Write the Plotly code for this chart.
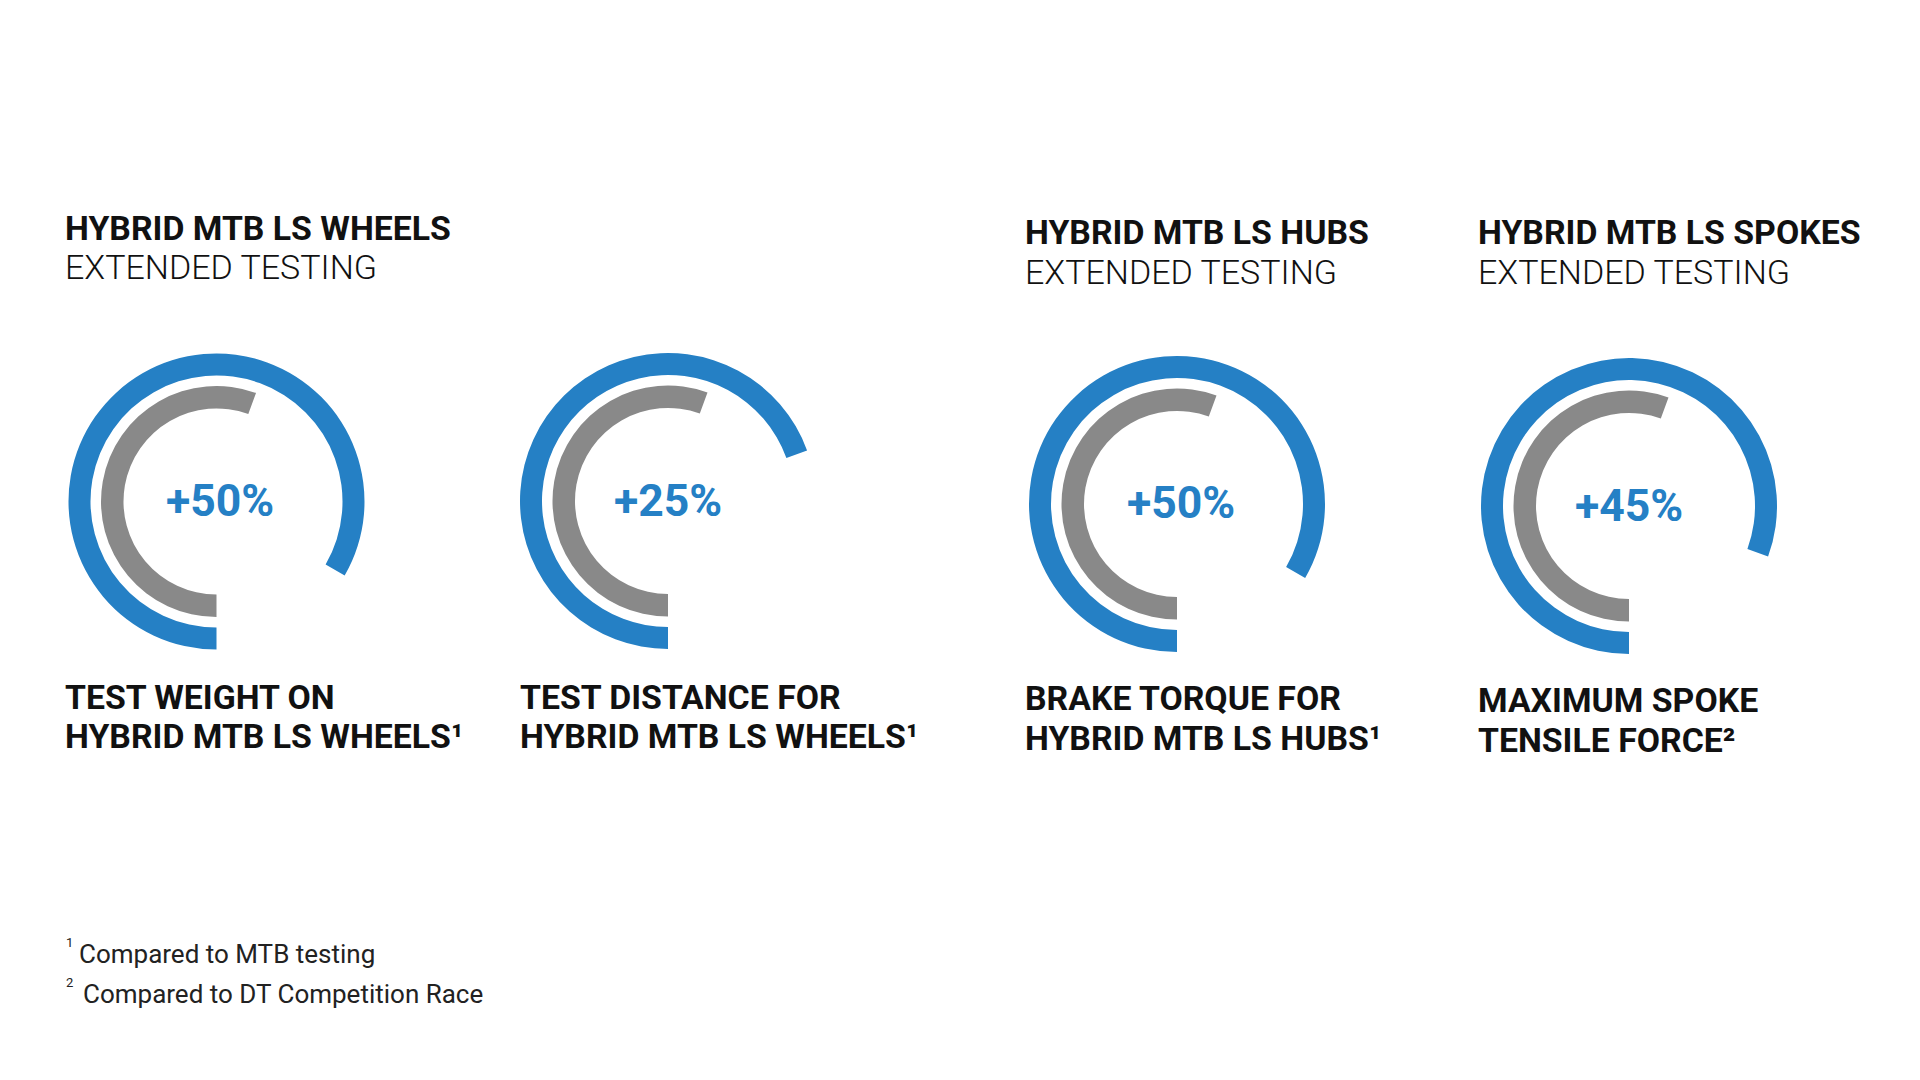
import plotly.graph_objects as go

# ---------------- data ----------------
panel_titles = ["HYBRID MTB LS WHEELS", "", "HYBRID MTB LS HUBS", "HYBRID MTB LS SPOKES"]
panel_subtitles = ["EXTENDED TESTING", "", "EXTENDED TESTING", "EXTENDED TESTING"]
label_line1 = ["TEST WEIGHT ON", "TEST DISTANCE FOR", "BRAKE TORQUE FOR", "MAXIMUM SPOKE"]
label_line2 = ["HYBRID MTB LS WHEELS¹", "HYBRID MTB LS WHEELS¹",
               "HYBRID MTB LS HUBS¹", "TENSILE FORCE²"]
increase_pct = [50, 25, 50, 45]
baseline = 100
footnote_marks = ["1", "2"]
footnotes = ["Compared to MTB testing", "Compared to DT Competition Race"]

# ---------------- style / layout ----------------
OFF = 8                    # page body margin
W, H = 1920 - 2 * OFF, 1080 - 2 * OFF
FULL_TURN = 180            # units for a full 360 degrees
BLUE = "#2580C5"
GRAY = "#898989"
FONT = "Roboto"
centers = [(216.5, 501.5), (668, 501), (1177, 504), (1629, 506)]
pct_text_pos = [(220, 501), (668, 501), (1181, 503), (1629, 506)]
R_BLUE_OUT, R_BLUE_IN = 148, 126
R_GRAY_OUT, R_GRAY_IN = 115.5, 93
title_pos = [(63, 228.5, 267.5), (517, 228.5, 267.5), (1023, 232.5, 272), (1476, 232.5, 272)]
label_pos = [(63, 697, 736), (518, 697, 736), (1023, 698, 738), (1476, 700, 740)]
footnote_mark_pos = [(64, 942.5), (64, 982.5)]
footnote_text_pos = [(77, 954), (81, 994)]


def px(x, y):
    return (x - OFF) / W, 1 - (y - OFF) / H


def dom(cx, cy, r):
    x0, y1 = px(cx - r, cy - r)
    x1, y0 = px(cx + r, cy + r)
    return dict(x=[x0, x1], y=[y0, y1])


fig = go.Figure()
annotations = []


def add_text(x, y, text, size, color, weight, xanchor="left"):
    ax, ay = px(x, y)
    annotations.append(dict(x=ax, y=ay, xref="paper", yref="paper", text=text,
                            showarrow=False, xanchor=xanchor, yanchor="middle",
                            font=dict(family=FONT, size=size, color=color, weight=weight)))


for i, pct in enumerate(increase_pct):
    cx, cy = centers[i]
    new_val = baseline + pct
    # outer blue ring (new value)
    fig.add_trace(go.Pie(
        values=[new_val, FULL_TURN - new_val],
        marker=dict(colors=[BLUE, "rgba(0,0,0,0)"], line=dict(width=0)),
        hole=R_BLUE_IN / R_BLUE_OUT, sort=False, direction="clockwise", rotation=180,
        textinfo="none", hoverinfo="skip", showlegend=False,
        domain=dom(cx, cy, R_BLUE_OUT),
    ))
    # inner gray ring (baseline)
    fig.add_trace(go.Pie(
        values=[baseline, FULL_TURN - baseline],
        marker=dict(colors=[GRAY, "rgba(0,0,0,0)"], line=dict(width=0)),
        hole=R_GRAY_IN / R_GRAY_OUT, sort=False, direction="clockwise", rotation=180,
        textinfo="none", hoverinfo="skip", showlegend=False,
        domain=dom(cx, cy, R_GRAY_OUT),
    ))
    px_, py_ = pct_text_pos[i]
    add_text(px_, py_, f"+{pct}%", 44.5, BLUE, 700, xanchor="center")
    tx, ty1, ty2 = title_pos[i]
    if panel_titles[i]:
        add_text(tx, ty1, panel_titles[i], 33.8, "#111111", 700)
        add_text(tx, ty2, panel_subtitles[i], 34, "#111111", 300)
    lx, ly1, ly2 = label_pos[i]
    add_text(lx, ly1, label_line1[i], 33.8, "#111111", 700)
    add_text(lx, ly2, label_line2[i], 33.8, "#111111", 700)

for j, (mark, txt) in enumerate(zip(footnote_marks, footnotes)):
    mx, my = footnote_mark_pos[j]
    add_text(mx, my, mark, 13, "#222222", 400)
    fx, fy = footnote_text_pos[j]
    add_text(fx, fy, txt, 26, "#222222", 400)

fig.update_layout(
    width=W, height=H,
    margin=dict(l=0, r=0, t=0, b=0),
    paper_bgcolor="white", plot_bgcolor="white",
    annotations=annotations,
    showlegend=False,
)

fig.write_html("out.html")
